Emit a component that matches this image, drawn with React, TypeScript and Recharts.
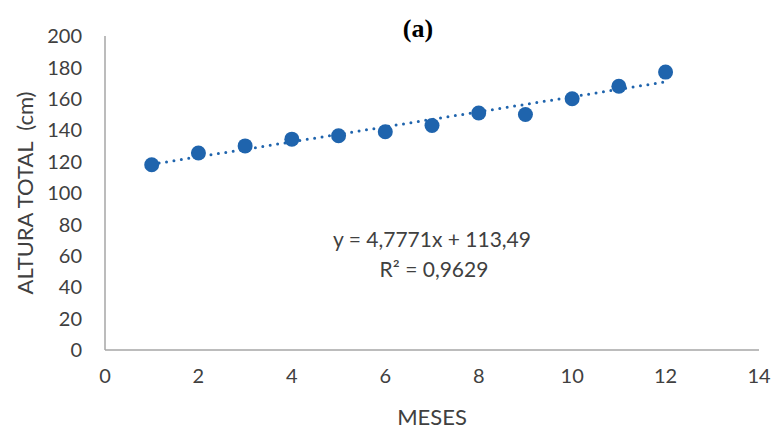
import React from "react";
import { ComposedChart, Line, Scatter, XAxis, YAxis, Customized } from "recharts";

const months = [1, 2, 3, 4, 5, 6, 7, 8, 9, 10, 11, 12];
const heights = [118, 125.5, 130, 134.3, 136.5, 139, 143, 151, 150, 160, 168, 177];
const trendMonths = [1, 12];
const trendHeights = [118.3, 170.8];
const xTicks = [0, 2, 4, 6, 8, 10, 12, 14];
const yTicks = [0, 20, 40, 60, 80, 100, 120, 140, 160, 180, 200];
const title = "(a)";
const equation = "y = 4,7771x + 113,49";
const rSquared = "R² = 0,9629";
const xLabel = "MESES";
const yLabel = "ALTURA TOTAL\u00a0\u00a0(cm)";

const points = months.map((m, i) => ({ x: m, y: heights[i] }));
const trend = trendMonths.map((m, i) => ({ x: m, y: trendHeights[i] }));

const FONT = "Lato, 'Open Sans', sans-serif";
const TXT = "#404040";
const BLUE = "#1f64ad";

const Annotations = () => (
  <g>
    <text x={418} y={37} textAnchor="middle" fontFamily="'Liberation Serif', 'Times New Roman', serif" fontWeight="bold" fontSize={26} fill="#000">
      {title}
    </text>
    <text x={432} y={247} textAnchor="middle" fontFamily={FONT} fontSize={21} fill={TXT}>
      {equation}
    </text>
    <text x={434} y={277} textAnchor="middle" fontFamily={FONT} fontSize={21} fill={TXT}>
      {rSquared}
    </text>
    <text x={33} y={193} transform="rotate(-90 33 193)" textAnchor="middle" fontFamily={FONT} fontSize={22} fill={TXT}>
      {yLabel}
    </text>
  </g>
);

export default function App() {
  return (
    <div style={{ position: "absolute", left: 0, top: 0, background: "#fff" }}>
      <ComposedChart width={774} height={430} margin={{ top: 36, right: 15, left: 0, bottom: 0 }}>
        <XAxis
          type="number"
          dataKey="x"
          domain={[0, 14]}
          ticks={xTicks}
          allowDataOverflow
          height={80}
          tickSize={0}
          tickMargin={19}
          axisLine={{ stroke: "#a6a6a6", strokeWidth: 1.5 }}
          tick={{ fill: TXT, fontSize: 20, fontFamily: FONT }}
          label={{ value: xLabel, position: "insideBottom", offset: 5, fill: TXT, fontSize: 22, fontFamily: FONT }}
        />
        <YAxis
          type="number"
          dataKey="y"
          domain={[0, 200]}
          ticks={yTicks}
          width={105}
          tickSize={0}
          tickMargin={23}
          axisLine={{ stroke: "#a6a6a6", strokeWidth: 1.5 }}
          tick={{ fill: TXT, fontSize: 20, fontFamily: FONT }}
        />
        <Line
          data={trend}
          dataKey="y"
          type="linear"
          stroke={BLUE}
          strokeWidth={3}
          strokeDasharray="0 7.5"
          strokeLinecap="round"
          dot={false}
          activeDot={false}
          isAnimationActive={false}
        />
        <Scatter data={points} dataKey="y" fill={BLUE} shape={(p: any) => <circle cx={p.cx} cy={p.cy} r={7.5} fill={BLUE} />} isAnimationActive={false} />
        <Customized component={Annotations} />
      </ComposedChart>
    </div>
  );
}
